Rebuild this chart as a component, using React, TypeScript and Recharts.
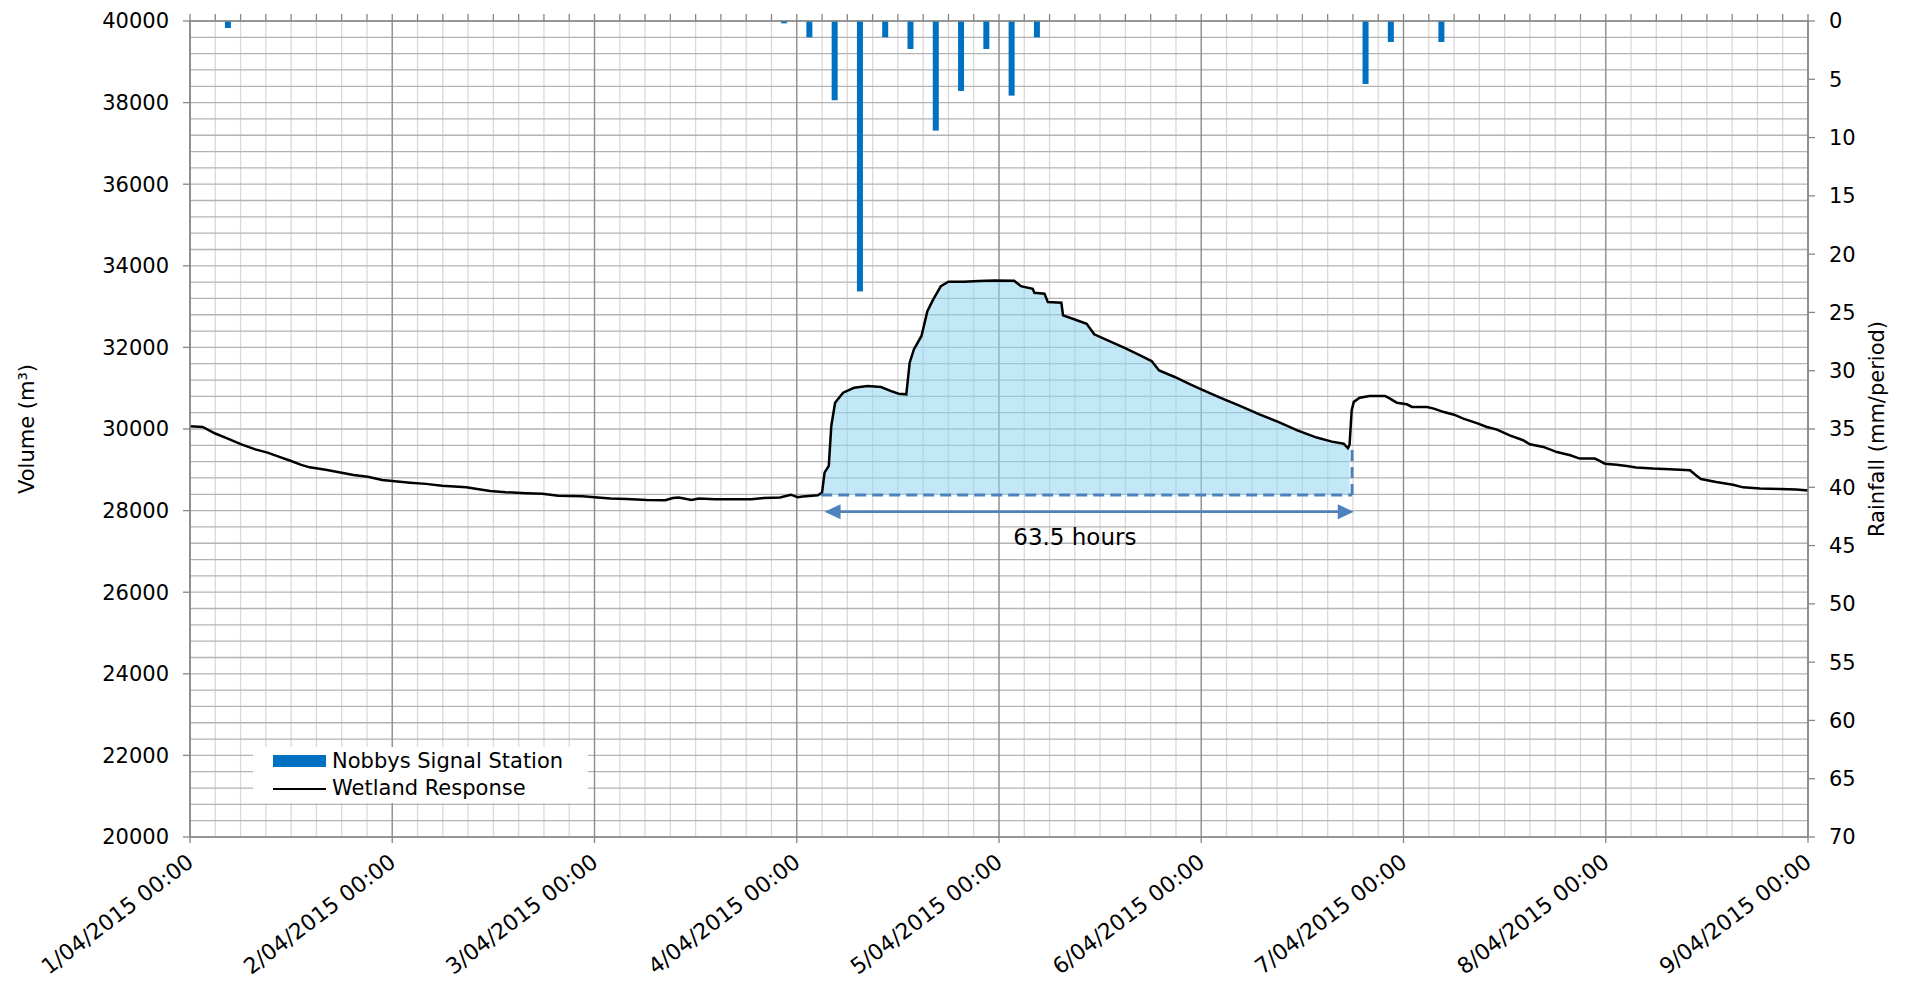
import {
  ComposedChart,
  Line,
  Bar,
  Area,
  XAxis,
  YAxis,
  CartesianGrid,
  ReferenceLine,
  ReferenceDot,
  Legend,
} from 'recharts';

// hours since 1/04/2015 00:00
const wetlandHours = [
  0, 1.5, 3, 4.2, 6.1, 7.75, 9.2, 10.85, 12, 13.2, 14.2, 16.1, 18, 19.4, 21.1, 22.8, 24, 26.1, 28, 29.9,
  32.8, 33.7, 35.6, 37.5, 39.9, 41.8, 43.7, 46.6, 48, 49.9, 51.8, 54.2, 56.4, 57.3, 58, 59.5, 60.4, 62.3,
  66.6, 68.1, 70, 71.3, 72.1, 72.7, 74.5, 75, 75.3, 75.8, 76.1, 76.55, 77.5, 78.8, 80.4, 82, 83.2, 84.1,
  85, 85.4, 85.9, 86.8, 87.5, 88.2, 89.1, 90, 91.8, 93.6, 95.45, 97.8, 98.6, 100, 100.2, 101.4, 101.8,
  103.4, 103.6, 105, 106.4, 107.3, 109.1, 110.9, 112.75, 114.1, 115, 116.85, 118.7, 120, 122.3, 124.6,
  126.9, 129.2, 131.4, 133.7, 135.5, 136.9, 137.4, 137.6, 137.85, 138.1, 138.8, 140, 141.8, 142.4, 143.2,
  144.4, 145, 146.8, 147.6, 148.8, 150, 151.1, 152.7, 153.9, 155.1, 156.6, 158.2, 159, 160.6, 162.2,
  163.8, 164.9, 166.7, 167.1, 167.9, 169.3, 170.5, 171.6, 173.6, 175.6, 178, 178.7, 179.3, 181.1, 183.1,
  184.3, 186.3, 188.7, 190.6, 192,
];

const wetlandVolume = [
  30070, 30050, 29890, 29790, 29625, 29500, 29420, 29300, 29215, 29120, 29060, 29000, 28930, 28875, 28830,
  28750, 28725, 28685, 28655, 28610, 28570, 28540, 28480, 28450, 28425, 28410, 28365, 28350, 28325, 28295,
  28285, 28260, 28255, 28310, 28320, 28260, 28295, 28280, 28280, 28310, 28320, 28390, 28330, 28345, 28375,
  28440, 28930, 29095, 30075, 30645, 30890, 31010, 31055, 31030, 30930, 30865, 30850, 31625, 31950, 32280,
  32890, 33175, 33500, 33610, 33610, 33625, 33640, 33635, 33500, 33435, 33340, 33315, 33110, 33095, 32785,
  32685, 32580, 32320, 32155, 31990, 31805, 31665, 31435, 31275, 31095, 30970, 30765, 30565, 30360, 30170,
  29965, 29790, 29690, 29640, 29530, 29610, 30455, 30665, 30765, 30810, 30810, 30745, 30645, 30605, 30540,
  30540, 30500, 30415, 30350, 30255, 30145, 30050, 29985, 29845, 29725, 29625, 29560, 29435, 29355, 29275,
  29275, 29235, 29150, 29125, 29095, 29055, 29030, 29015, 28990, 28865, 28775, 28700, 28635, 28570, 28540,
  28530, 28515, 28490,
];

const rainHours = [4.5, 70.5, 73.5, 76.5, 79.5, 82.5, 85.5, 88.5, 91.5, 94.5, 97.5, 100.5, 139.5, 142.5, 148.5];
const rainMm = [0.6, 0.2, 1.4, 6.8, 23.2, 1.4, 2.4, 9.4, 6.0, 2.4, 6.4, 1.4, 5.4, 1.8, 1.8];

const dayTicks = [0, 24, 48, 72, 96, 120, 144, 168, 192];
const dayLabels = [
  '1/04/2015 00:00',
  '2/04/2015 00:00',
  '3/04/2015 00:00',
  '4/04/2015 00:00',
  '5/04/2015 00:00',
  '6/04/2015 00:00',
  '7/04/2015 00:00',
  '8/04/2015 00:00',
  '9/04/2015 00:00',
];
const volumeTicks = [20000, 22000, 24000, 26000, 28000, 30000, 32000, 34000, 36000, 38000, 40000];
const rainTicks = [0, 5, 10, 15, 20, 25, 30, 35, 40, 45, 50, 55, 60, 65, 70];

// event annotation (hours / m3)
const eventFillStart = 75;
const eventFillEnd = 137.6;
const eventBase = 28380;
const dashStart = 74.9;
const dashEnd = 137.9;
const dashTop = 29600;
const arrowStart = 75.3;
const arrowEnd = 138.1;
const arrowLevel = 27970;
const eventLabel = '63.5 hours';
const eventLabelHour = 105;
const eventLabelLevel = 27360;

const threeHourGrid: number[] = [];
for (let h = 0; h <= 192; h += 3) threeHourGrid.push(h);
const volumeGrid: number[] = [];
for (let v = 20000; v <= 40000; v += 400) volumeGrid.push(v);

type Row = { h: number; volume?: number; event?: number; rain?: number };
const rowMap = new Map<number, Row>();
const getRow = (h: number) => {
  if (!rowMap.has(h)) rowMap.set(h, { h });
  return rowMap.get(h)!;
};
wetlandHours.forEach((h, i) => {
  const r = getRow(h);
  r.volume = wetlandVolume[i];
  if (h >= eventFillStart && h <= eventFillEnd) r.event = wetlandVolume[i];
});
rainHours.forEach((h, i) => {
  getRow(h).rain = rainMm[i];
});
const data = Array.from(rowMap.values()).sort((a, b) => a.h - b.h);

const FONT = "'DejaVu Sans', Verdana, sans-serif";
const AXIS = '#868686';
const ANNOT = '#4f81bd';
const RAIN = '#0070c0';

const DateTick = (props: any) => {
  const { x, y, payload } = props;
  const label = dayLabels[dayTicks.indexOf(payload.value)];
  return (
    <g transform={`translate(${x + 5},${y + 20})`}>
      <text textAnchor="end" transform="rotate(-37)" fontSize={22} fill="#000" fontFamily={FONT}>
        {label}
      </text>
    </g>
  );
};

const VolumeTitle = (props: any) => {
  const { viewBox } = props;
  const cx = viewBox.x + 19;
  const cy = viewBox.y + viewBox.height / 2;
  return (
    <text
      x={cx}
      y={cy}
      transform={`rotate(-90 ${cx} ${cy})`}
      textAnchor="middle"
      dominantBaseline="central"
      fontSize={21}
      fill="#000"
      fontFamily={FONT}
    >
      Volume (m³)
    </text>
  );
};

const RainTitle = (props: any) => {
  const { viewBox } = props;
  const cx = viewBox.x + 69;
  const cy = viewBox.y + viewBox.height / 2;
  return (
    <text
      x={cx}
      y={cy}
      transform={`rotate(-90 ${cx} ${cy})`}
      textAnchor="middle"
      dominantBaseline="central"
      fontSize={21}
      fill="#000"
      fontFamily={FONT}
    >
      Rainfall (mm/period)
    </text>
  );
};

// fixed 6px bars centred on the period midpoint
const RainBar = (props: any) => {
  const { x, y, width, height } = props;
  if (!height || isNaN(height)) return null;
  const cx = x + width / 2;
  const top = Math.min(y, y + height);
  return <rect x={cx - 3} y={top} width={6} height={Math.abs(height)} fill={RAIN} />;
};

const ArrowShape = (props: any) => {
  const { x1, y1, x2, y2 } = props;
  const head = 16;
  const half = 7.5;
  return (
    <g>
      <line x1={x1 + head - 2} y1={y1} x2={x2 - head + 2} y2={y2} stroke={ANNOT} strokeWidth={2.5} />
      <polygon points={`${x1},${y1} ${x1 + head},${y1 - half} ${x1 + head},${y1 + half}`} fill={ANNOT} />
      <polygon points={`${x2},${y2} ${x2 - head},${y2 - half} ${x2 - head},${y2 + half}`} fill={ANNOT} />
    </g>
  );
};

const LabelShape = (props: any) => (
  <text
    x={props.cx}
    y={props.cy}
    textAnchor="middle"
    dominantBaseline="central"
    fontSize={23}
    fill="#000"
    fontFamily={FONT}
  >
    {eventLabel}
  </text>
);

const renderLegend = () => (
  <div
    style={{
      position: 'relative',
      width: 335,
      height: 56,
      background: '#fff',
      fontFamily: FONT,
      fontSize: 21,
      color: '#000',
      lineHeight: '27px',
    }}
  >
    <div style={{ position: 'absolute', left: 20, top: 8, width: 53, height: 12, background: RAIN }} />
    <div style={{ position: 'absolute', left: 79, top: 1, whiteSpace: 'nowrap' }}>Nobbys Signal Station</div>
    <div style={{ position: 'absolute', left: 20, top: 41, width: 53, height: 2, background: '#000' }} />
    <div style={{ position: 'absolute', left: 79, top: 28, whiteSpace: 'nowrap' }}>Wetland Response</div>
  </div>
);

export default function App() {
  return (
    <div style={{ fontFamily: FONT }}>
      <ComposedChart width={1892} height={972} data={data} margin={{ top: 5, right: 0, bottom: 0, left: 0 }}>
        <CartesianGrid
          verticalValues={threeHourGrid}
          horizontal={false}
          stroke="#d9d9d9"
          strokeWidth={1.3}
        />
        <CartesianGrid horizontalValues={volumeGrid} vertical={false} stroke="#b3b3b3" strokeWidth={1.3} />
        <CartesianGrid verticalValues={dayTicks} horizontal={false} stroke="#8c8c8c" strokeWidth={1.3} />

        <XAxis
          dataKey="h"
          type="number"
          domain={[0, 192]}
          ticks={dayTicks}
          interval={0}
          height={143}
          tick={<DateTick />}
          tickSize={6}
          axisLine={{ stroke: AXIS, strokeWidth: 1.5 }}
          tickLine={{ stroke: AXIS, strokeWidth: 1.3 }}
        />
        <XAxis
          xAxisId="top"
          orientation="top"
          dataKey="h"
          type="number"
          domain={[0, 192]}
          ticks={threeHourGrid}
          interval={0}
          height={8}
          tickSize={7}
          tickFormatter={() => ''}
          axisLine={{ stroke: AXIS, strokeWidth: 1.5 }}
          tickLine={{ stroke: AXIS, strokeWidth: 1.3 }}
        />
        <YAxis
          type="number"
          domain={[20000, 40000]}
          ticks={volumeTicks}
          interval={0}
          width={182}
          tickSize={7}
          tickMargin={14}
          tick={{ fontSize: 21, fill: '#000' }}
          axisLine={{ stroke: AXIS, strokeWidth: 1.5 }}
          tickLine={{ stroke: AXIS, strokeWidth: 1.3 }}
          label={VolumeTitle}
        />
        <YAxis
          yAxisId="rain"
          orientation="right"
          type="number"
          domain={[0, 70]}
          reversed
          ticks={rainTicks}
          interval={0}
          width={92}
          tickSize={7}
          tickMargin={14}
          tick={{ fontSize: 21, fill: '#000' }}
          axisLine={{ stroke: AXIS, strokeWidth: 1.5 }}
          tickLine={{ stroke: AXIS, strokeWidth: 1.3 }}
          label={RainTitle}
        />

        <Area
          dataKey="event"
          type="linear"
          baseValue={eventBase}
          connectNulls
          stroke="none"
          fill="#8fd6f0"
          fillOpacity={0.55}
          isAnimationActive={false}
          legendType="none"
        />
        <Bar
          dataKey="rain"
          yAxisId="rain"
          name="Nobbys Signal Station"
          fill={RAIN}
          barSize={6}
          shape={RainBar}
          isAnimationActive={false}
        />
        <Line
          dataKey="volume"
          name="Wetland Response"
          type="linear"
          stroke="#000"
          strokeWidth={2.5}
          dot={false}
          connectNulls
          isAnimationActive={false}
        />

        <ReferenceLine
          segment={[
            { x: dashStart, y: eventBase },
            { x: dashEnd, y: eventBase },
          ]}
          stroke={ANNOT}
          strokeWidth={3}
          strokeDasharray="11 6"
        />
        <ReferenceLine
          segment={[
            { x: dashEnd, y: eventBase },
            { x: dashEnd, y: dashTop },
          ]}
          stroke={ANNOT}
          strokeWidth={3}
          strokeDasharray="11 6"
        />
        <ReferenceLine
          segment={[
            { x: arrowStart, y: arrowLevel },
            { x: arrowEnd, y: arrowLevel },
          ]}
          shape={ArrowShape}
        />
        <ReferenceDot x={eventLabelHour} y={eventLabelLevel} r={0} shape={LabelShape} />

        <Legend
          layout="vertical"
          align="center"
          verticalAlign="middle"
          wrapperStyle={{ left: 245, top: 739, width: 335, height: 56 }}
          content={renderLegend}
        />
      </ComposedChart>
    </div>
  );
}
